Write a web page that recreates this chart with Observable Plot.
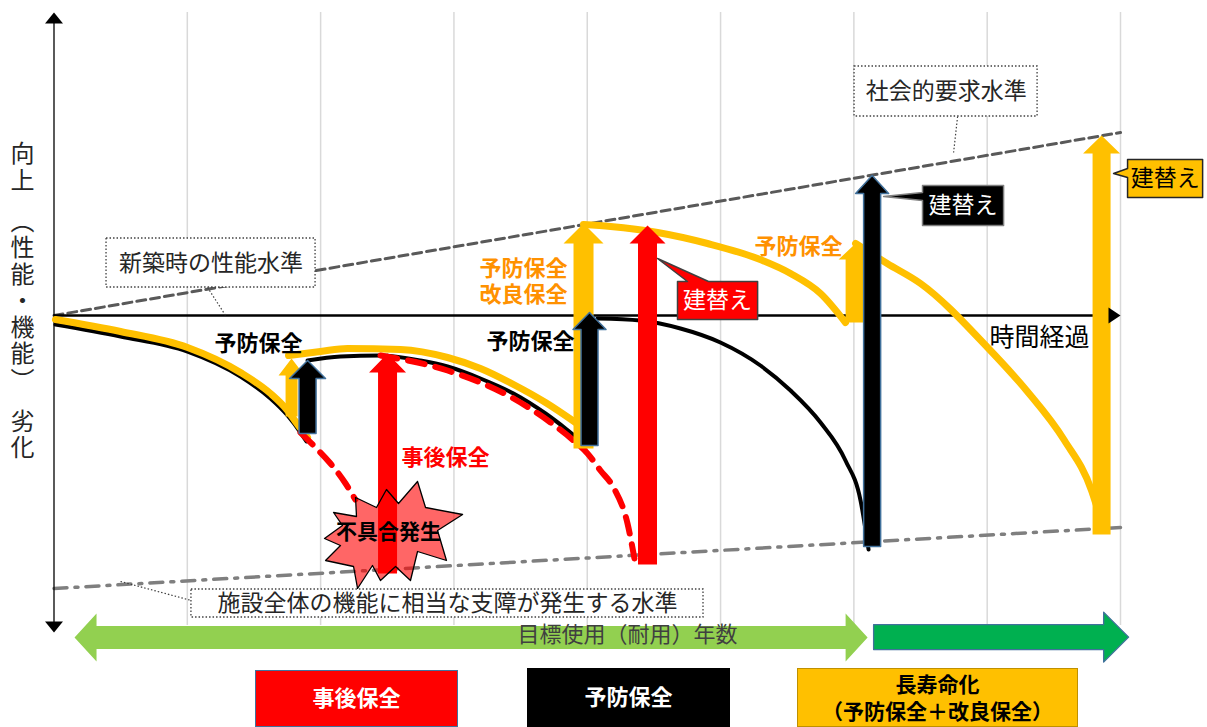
<!DOCTYPE html>
<html lang="ja"><head><meta charset="utf-8">
<script src="https://cdn.jsdelivr.net/npm/d3@7"></script>
<script src="https://cdn.jsdelivr.net/npm/@observablehq/plot@0.6"></script>
<style>
html,body{margin:0;padding:0;overflow:hidden;background:#fff;}
#wrap{position:relative;width:1207px;height:727px;font-family:"Noto Sans CJK JP","Noto Sans",sans-serif;}
#legend{position:relative;width:1207px;height:62px;}
.lg{position:absolute;box-sizing:border-box;display:flex;flex-direction:column;align-items:center;justify-content:center;font-weight:bold;text-align:center;font-family:"Liberation Sans","Noto Sans CJK JP",sans-serif;}
#vtitle{position:absolute;left:7px;top:141px;writing-mode:vertical-rl;text-orientation:mixed;font-size:24px;line-height:30px;letter-spacing:2.5px;color:#262626;font-family:"Noto Sans CJK JP",sans-serif;white-space:pre;}
</style></head>
<body><div id="wrap"><div id="chart"></div><div id="vtitle"></div><div id="legend"></div></div>
<script>
// ---------- data (x: years, y: performance index, 100 = new-build level) ----------
const gridYears = [10, 20, 30, 40, 50, 60, 70, 80];
const socialRequirement = [[0, 100], [80, 145.75]];
const failureThreshold = [[0, 31.75], [80, 47]];
const timeAxis = {start: 0, end: 80, level: 100};
const valueAxis = {low: 20.75, high: 175.75};
const valueAxisTitle = "向上　（性能・機能）　劣化";

const blackCurve1 = [[0.11,97.75],[4.99,94.75],[10.02,91.0],[13.99,84.75],[16.24,79.25],[17.52,75.0],[18.49,70.75],[18.94,68.5]];
const yellowCurve1 = [[0.11,99],[4.99,96],[10.02,92],[13.99,85.75],[16.24,80.5],[17.52,76.25],[18.27,72.75],[19.02,69.5]];
const blackCurve2 = [[19.02,88.75],[21.49,89.75],[24.49,90.0],[27.49,88.75],[29.52,87.25],[31.99,84.25],[34.47,80.5],[36.87,75.5],[38.37,71.75],[39.65,68.25]];
const yellowCurve2 = [[17.59,90.0],[19.99,91.0],[22.02,91.75],[25.99,91.5],[29.52,89.5],[31.99,86.75],[34.47,82.75],[36.87,78.25],[39.12,73.25]];
const blackCurve3 = [[40.77,99.25],[43.99,98.75],[46.99,96.75],[49.99,93.25],[52.99,87.5],[55.25,81.25],[57.5,73.25],[59.37,63.75],[60.5,53.75],[61.1,41.5]];
const yellowCurve3 = [[39.72,122.75],[41.75,122.25],[45.27,120.75],[49.02,118],[52.77,114.25],[55.25,110.5],[57.5,105.5],[59.37,98.25]];
const yellowCurve4 = [[60.13,118],[62.5,113],[65.0,108],[70.03,92],[72.95,81.25],[75.8,68.75],[77.83,56.25],[78.2,52.5]];
const redDashed1 = [[18.49,70.75],[19.47,67.5],[20.74,63],[21.87,58],[22.6,54]];
const redDashed2 = [[24.49,90],[29.52,86.25],[34.47,79.25],[37.25,73.25],[38.97,68.75],[40.02,65.5],[40.99,61.25],[41.97,57],[43.02,48],[43.54,39.25]];

const upArrows = [
  {id:"a1", method:"長寿命化", year:17.82, from:74.75, to:89.25},
  {id:"a2", method:"予防保全", year:19.02, from:70.5, to:88.75},
  {id:"a3", method:"事後保全", year:25.02, from:35.5, to:90.5},
  {id:"a4", method:"長寿命化", year:39.72, from:66.75, to:123},
  {id:"a5", method:"予防保全", year:40.17, from:67.5, to:100.75},
  {id:"a6", method:"事後保全", year:44.52, from:37.75, to:122.5},
  {id:"a7", method:"長寿命化", year:60.13, from:98.25, to:118},
  {id:"a8", method:"予防保全", year:61.37, from:42.25, to:135},
  {id:"a9", method:"長寿命化", year:78.58, from:45.25, to:145}
];

const spanArrows = [
  {id:"g1", start:1.54, end:61.03, level:19.5, heads:"both"},
  {id:"g2", start:61.48, end:80.61, level:19.6, heads:"end"}
];

const burst = [[27.27,58.5],[27.87,52],[30.65,50.25],[28.77,46.25],[29.44,38.75],[27.27,41],[26.74,33.75],[25.62,37.25],[24.49,33.75],[23.89,37.5],[22.77,31.75],[22.47,37.25],[20.37,38.75],[21.49,42.5],[20.29,44.25],[21.64,47.5],[20.97,50.75],[22.69,49.75],[22.62,54.5],[24.19,52],[24.94,56.5],[25.84,53],[27.27,58.5]];

const levelBoxes = [
  {text:"新築時の性能水準", x1:3.94, x2:19.62, y1:107, y2:119.25, tx:11.78, ty:113, leader:[[11.52,107],[12.87,100]]},
  {text:"社会的要求水準", x1:60.05, x2:73.78, y1:149.75, y2:162.25, tx:66.92, ty:156, leader:[[67.78,149.75],[67.48,140.75]]},
  {text:"施設全体の機能に相当な支障が発生する水準", x1:10.31, x2:48.72, y1:24.5, y2:31.5, tx:29.52, ty:28, leader:[[4.99,33.5],[10.31,28.75]]}
];

const callouts = [
  {text:"建替え", method:"事後保全", side:"top", x1:46.77, x2:52.78, y1:99, y2:108.5, base:[47.52,49.1], apex:[45.27,114.25], tx:49.77, ty:103.75},
  {text:"建替え", method:"予防保全", side:"left", x1:65.15, x2:71.23, y1:122.5, y2:132.5, base:[128.75,130.75], apex:[62.23,129.75], tx:68.19, ty:127.5},
  {text:"建替え", method:"長寿命化", side:"left", x1:80.53, x2:86.16, y1:129.5, y2:139, base:[134.5,136.75], apex:[79.48,135.5], tx:83.35, ty:134.25}
];

const labels = [
  {text:"予防保全", year:15.34, level:93.25, kind:"black"},
  {text:"予防保全", year:35.75, level:93.75, kind:"black"},
  {text:"予防保全\n改良保全", year:35.22, level:108.75, kind:"orange2"},
  {text:"予防保全", year:55.85, level:117.5, kind:"orange"},
  {text:"事後保全", year:29.37, level:64.75, kind:"red"},
  {text:"不具合発生", year:25.09, level:46, kind:"burst"},
  {text:"時間経過", year:73.93, level:94.75, kind:"axis"},
  {text:"目標使用（耐用）年数", year:43.02, level:20.5, kind:"span"}
];

const legendItems = [
  {method:"事後保全", lines:["事後保全"]},
  {method:"予防保全", lines:["予防保全"]},
  {method:"長寿命化", lines:["長寿命化", "（予防保全＋改良保全）"]}
];

// ---------- styles / layout ----------
const FONT = '"Noto Sans CJK JP","Noto Sans",sans-serif';
const FONT_TIGHT = '"Liberation Sans","Noto Sans CJK JP",sans-serif';
const methodColor = {"事後保全":"#ff0000", "予防保全":"#000000", "長寿命化":"#ffc000"};
const arrowOutline = {"事後保全":"none", "予防保全":"#41719c", "長寿命化":"none"};
const arrowSize = {
  a1:{body:12,head:26,len:17}, a2:{body:17,head:36,len:18}, a3:{body:19,head:37,len:19},
  a4:{body:20,head:40,len:20}, a5:{body:17,head:33,len:17}, a6:{body:19,head:36,len:18},
  a7:{body:20,head:34,len:16}, a8:{body:17,head:33,len:18}, a9:{body:18,head:37,len:18}
};
const spanStyle = {g1:{fill:"#92d050", stroke:"none", body:23, head:48, len:22}, g2:{fill:"#00b050", stroke:"#41719c", body:25, head:50, len:25}};
const calloutStyle = {"事後保全":{fill:"#ff0000", stroke:"#404040", text:"#ffffff"}, "予防保全":{fill:"#000000", stroke:"#7f7f7f", text:"#ffffff"}, "長寿命化":{fill:"#ffc000", stroke:"#262626", text:"#000000"}};
const labelStyle = {
  black:{fill:"#000", size:22, weight:"bold", font:FONT},
  orange:{fill:"#ff9100", size:22, weight:"bold", font:FONT},
  orange2:{fill:"#ff9100", size:22, weight:"bold", font:FONT_TIGHT},
  red:{fill:"#ff0000", size:22, weight:"bold", font:FONT},
  burst:{fill:"#000", size:21, weight:"bold", font:FONT},
  axis:{fill:"#000", size:25, weight:"normal", font:FONT},
  span:{fill:"#404040", size:22, weight:"normal", font:FONT}
};
const legendLayout = {
  "事後保全":{left:255, top:5, width:203, height:57, bg:"#ff0000", border:"#41719c", color:"#fff", size:22},
  "予防保全":{left:527, top:3, width:203, height:59, bg:"#000000", border:"#000", color:"#fff", size:22},
  "長寿命化":{left:797, top:3, width:281, height:59, bg:"#ffc000", border:"#bf9000", color:"#000", size:21}
};
const layout = {width:1207, height:665, left:53.5, right:87, top:15, bottom:0};
const xDomain = [0, 80], yDomain = [12.5, 175];
const PX = (xDomain[1]-xDomain[0]) / (layout.width - layout.left - layout.right);
const PY = (yDomain[1]-yDomain[0]) / (layout.height - layout.top - layout.bottom);

// ---------- shape builders ----------
function upArrowPolygon(a) {
  const s = arrowSize[a.id], b = s.body/2*PX, h = s.head/2*PX, neck = a.to - s.len*PY, x = a.year;
  return [[x-b,a.from],[x-b,neck],[x-h,neck],[x,a.to],[x+h,neck],[x+b,neck],[x+b,a.from],[x-b,a.from]];
}
function spanPolygon(g) {
  const s = spanStyle[g.id], b = s.body/2*PY, h = s.head/2*PY, L = s.len*PX, y = g.level;
  if (g.heads === "both")
    return [[g.start+L,y+b],[g.end-L,y+b],[g.end-L,y+h],[g.end,y],[g.end-L,y-h],[g.end-L,y-b],[g.start+L,y-b],[g.start+L,y-h],[g.start,y],[g.start+L,y+h],[g.start+L,y+b]];
  return [[g.start,y+b],[g.end-L,y+b],[g.end-L,y+h],[g.end,y],[g.end-L,y-h],[g.end-L,y-b],[g.start,y-b],[g.start,y+b]];
}
function headPolygon(x, y, dir, len, half) {
  if (dir === "up") return [[x-half*PX,y-len*PY],[x,y],[x+half*PX,y-len*PY]];
  if (dir === "down") return [[x-half*PX,y+len*PY],[x,y],[x+half*PX,y+len*PY]];
  return [[x-len*PX,y+half*PY],[x,y],[x-len*PX,y-half*PY]];
}
function calloutPolygon(c) {
  const {x1,x2,y1,y2,apex,base} = c;
  if (c.side === "top") return [[x1,y2],[base[0],y2],apex,[base[1],y2],[x2,y2],[x2,y1],[x1,y1],[x1,y2]];
  return [[x1,y2],[x2,y2],[x2,y1],[x1,y1],[x1,base[0]],apex,[x1,base[1]],[x1,y2]];
}
const X = d => d[0], Y = d => d[1];
const poly = (pts, o) => Plot.line(pts, {x:X, y:Y, curve:"linear", ...o});
const curve = (pts, o) => Plot.line(pts, {x:X, y:Y, curve:"monotone-x", ...o});

const marks = [
  Plot.ruleX(gridYears, {y1:22.5, y2:175.75, stroke:"#d9d9d9", strokeWidth:1.5}),
  Plot.line(socialRequirement, {x:X, y:Y, stroke:"#595959", strokeWidth:3, strokeDasharray:"9,5"}),
  Plot.line(failureThreshold, {x:X, y:Y, stroke:"#7f7f7f", strokeWidth:3.5, strokeDasharray:"13,8,3,8"}),
  Plot.ruleX([0], {y1:valueAxis.low + 5*PY, y2:valueAxis.high - 5*PY, stroke:"#000", strokeWidth:1.3}),
  poly(headPolygon(0, valueAxis.high, "up", 11, 9), {fill:"#000", stroke:"none"}),
  poly(headPolygon(0, valueAxis.low, "down", 11, 9), {fill:"#000", stroke:"none"}),
  Plot.ruleY([timeAxis.level], {x1:timeAxis.start, x2:timeAxis.end - 5*PX, stroke:"#000", strokeWidth:2.5}),
  curve(blackCurve1, {stroke:"#000", strokeWidth:4}),
  curve(blackCurve2, {stroke:"#000", strokeWidth:4}),
  curve(blackCurve3, {stroke:"#000", strokeWidth:4}),
  curve(yellowCurve1, {stroke:"#ffc000", strokeWidth:7}),
  curve(yellowCurve2, {stroke:"#ffc000", strokeWidth:7}),
  curve(yellowCurve3, {stroke:"#ffc000", strokeWidth:7}),
  curve(yellowCurve4, {stroke:"#ffc000", strokeWidth:7}),
  curve(redDashed1, {stroke:"#ff0000", strokeWidth:6, strokeDasharray:"17,11"}),
  curve(redDashed2, {stroke:"#ff0000", strokeWidth:6, strokeDasharray:"17,11"}),
  ...upArrows.map(a => poly(upArrowPolygon(a), {fill:methodColor[a.method], stroke:arrowOutline[a.method], strokeWidth:1.5})),
  poly(headPolygon(timeAxis.end, timeAxis.level, "right", 12, 8), {fill:"#000", stroke:"none"}),
  poly(burst, {fill:"#ff0000", fillOpacity:0.6, stroke:"#000", strokeWidth:1.3}),
  ...spanArrows.map(g => poly(spanPolygon(g), {fill:spanStyle[g.id].fill, stroke:spanStyle[g.id].stroke, strokeWidth:1.3})),
  ...levelBoxes.map(b => Plot.link([b.leader], {x1:d=>d[0][0], y1:d=>d[0][1], x2:d=>d[1][0], y2:d=>d[1][1], stroke:"#404040", strokeWidth:1.2, strokeDasharray:"1.5,2"})),
  Plot.rect(levelBoxes, {x1:"x1", x2:"x2", y1:"y1", y2:"y2", fill:"#fff", stroke:"#404040", strokeWidth:1.3, strokeDasharray:"1.5,2"}),
  Plot.text(levelBoxes, {x:"tx", y:"ty", text:"text", fontSize:23, fill:"#262626", fontFamily:FONT}),
  ...callouts.map(c => poly(calloutPolygon(c), {fill:calloutStyle[c.method].fill, stroke:calloutStyle[c.method].stroke, strokeWidth:1.5})),
  ...callouts.map(c => Plot.text([c], {x:"tx", y:"ty", text:"text", fontSize:23, fill:calloutStyle[c.method].text, fontFamily:FONT})),
  ...labels.map(l => Plot.text([l], {x:"year", y:"level", text:"text", fontSize:labelStyle[l.kind].size, fontWeight:labelStyle[l.kind].weight, fill:labelStyle[l.kind].fill, lineHeight:1.18, fontFamily:labelStyle[l.kind].font}))
];

const chart = Plot.plot({
  width: layout.width, height: layout.height,
  marginLeft: layout.left, marginRight: layout.right, marginTop: layout.top, marginBottom: layout.bottom,
  x: {domain: xDomain, axis: null},
  y: {domain: yDomain, axis: null},
  style: {fontFamily: FONT, background: "#fff", overflow: "visible"},
  marks
});
document.getElementById("chart").appendChild(chart);
document.getElementById("vtitle").textContent = valueAxisTitle;

const legend = document.getElementById("legend");
for (const item of legendItems) {
  const s = legendLayout[item.method];
  const div = document.createElement("div");
  div.className = "lg";
  Object.assign(div.style, {left:s.left+"px", top:s.top+"px", width:s.width+"px", height:s.height+"px", background:s.bg, border:"1.5px solid "+s.border, color:s.color, fontSize:s.size+"px", lineHeight:"27px"});
  for (const line of item.lines) { const sp = document.createElement("div"); sp.textContent = line; div.appendChild(sp); }
  legend.appendChild(div);
}
</script></body></html>
